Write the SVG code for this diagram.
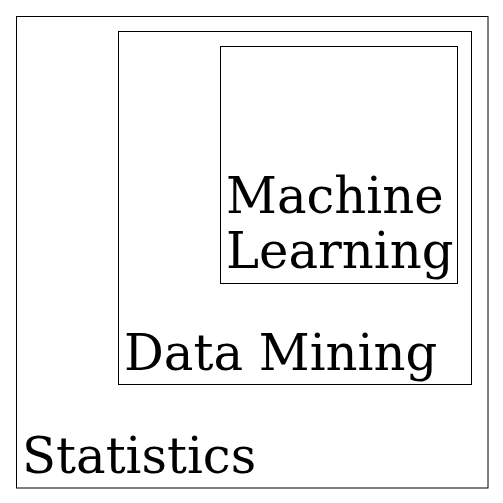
<svg xmlns="http://www.w3.org/2000/svg" width="503" height="503" viewBox="0 0 503 503">
<style>
rect.box{fill:none;stroke:#000;stroke-width:1}
text{font-family:"DejaVu Serif",serif;font-size:49.7px;fill:#000}
</style>
<rect width="503" height="503" fill="#fff"/>
<g id="statistics">
<rect class="box" x="16.5" y="16.5" width="471.5" height="471.5"/>
<text x="22" y="473">Statistics</text>
</g>
<g id="data-mining">
<rect class="box" x="118.5" y="31.5" width="353" height="353"/>
<text x="124" y="370">Data Mining</text>
</g>
<g id="machine-learning">
<rect class="box" x="220.5" y="46.5" width="237" height="237"/>
<text x="226" y="213">Machine</text>
<text x="226" y="268">Learning</text>
</g>
<g id="connectors"/>
</svg>
